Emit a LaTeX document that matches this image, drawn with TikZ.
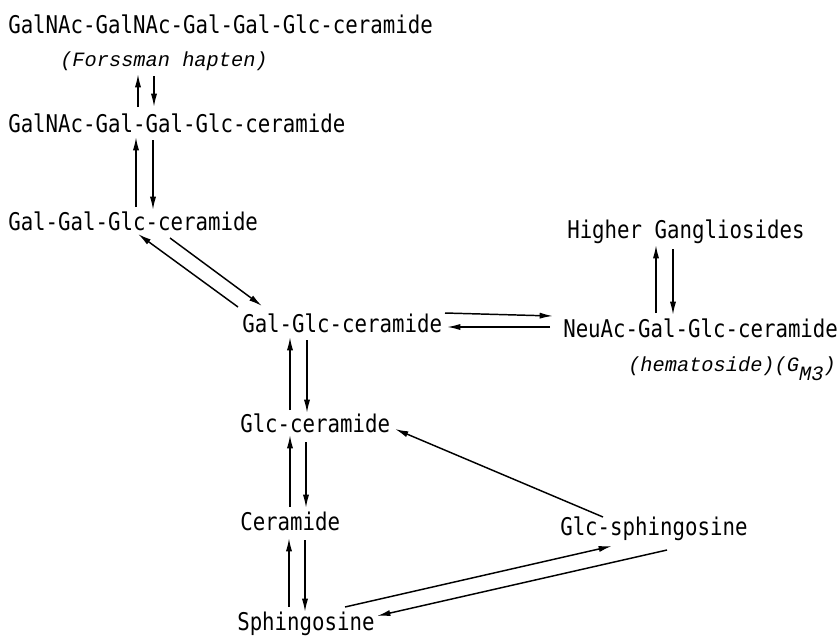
\documentclass[tikz,border=0pt]{standalone}
\usepackage{fontspec}
\usepackage{tikz}
\usetikzlibrary{arrows.meta}
\newfontfamily\chemfont[FakeStretch=0.85]{DejaVu Sans Mono}
\newfontfamily\notefont{Liberation Mono}

\tikzset{
  chem/.style={anchor=base west, inner sep=0pt, font=\chemfont\fontsize{18.3}{20}\selectfont},
  note/.style={anchor=base west, inner sep=0pt, font=\notefont\itshape\fontsize{15.25}{17}\selectfont},
  flow/.style={line width=1.1pt, -{Latex[length=10pt,width=4.6pt]}}
}

\begin{document}
\begin{tikzpicture}[x=0.75pt, y=-0.75pt]

\useasboundingbox (0,0) rectangle (839,637);

% compounds
\node[chem] (forsman) at (8,33) {GalNAc-GalNAc-Gal-Gal-Glc-ceramide};
\node[note] (fors)    at (60,66) {(Forssman hapten)};
\node[chem] (galnac)  at (8,132) {GalNAc-Gal-Gal-Glc-ceramide};
\node[chem] (galgal)  at (8,230) {Gal-Gal-Glc-ceramide};
\node[chem] (galglc)  at (242,332) {Gal-Glc-ceramide};
\node[chem] (neuac)   at (563,337) {NeuAc-Gal-Glc-ceramide};
\node[note] (hemato)  at (628,371) {(hematoside)(G\raisebox{-7pt}{M3})};
\node[chem] (higher)  at (567,238) {Higher Gangliosides};
\node[chem] (glccer)  at (240,432) {Glc-ceramide};
\node[chem] (cer)     at (240,530) {Ceramide};
\node[chem] (sph)     at (237,630) {Sphingosine};
\node[chem] (glcsph)  at (560,535) {Glc-sphingosine};

% left column
\draw[flow] ([shift={(130,-25)}]galnac.base west) -- ([shift={(78,8)}]fors.base west);
\draw[flow] ([shift={(94,10)}]fors.base west) -- ([shift={(146,-25)}]galnac.base west);

\draw[flow] ([shift={(128,-23)}]galgal.base west) -- ([shift={(128,5)}]galnac.base west);
\draw[flow] ([shift={(145,8)}]galnac.base west) -- ([shift={(145,-20)}]galgal.base west);

\draw[flow] ([shift={(-4,-25)}]galglc.base west) -- ([shift={(130,4)}]galgal.base west);
\draw[flow] ([shift={(162,8)}]galgal.base west) -- ([shift={(20,-26)}]galglc.base west);

% gangliosides
\draw[flow] ([shift={(203,-19)}]galglc.base west) -- ([shift={(-10,-21)}]neuac.base west);
\draw[flow] ([shift={(-13,-10)}]neuac.base west) -- ([shift={(205,-5)}]galglc.base west);

\draw[flow] ([shift={(93,-24)}]neuac.base west) -- ([shift={(89,7)}]higher.base west);
\draw[flow] ([shift={(106,11)}]higher.base west) -- ([shift={(110,-22)}]neuac.base west);

% lower column
\draw[flow] ([shift={(50,-22)}]glccer.base west) -- ([shift={(48,5)}]galglc.base west);
\draw[flow] ([shift={(65,8)}]galglc.base west) -- ([shift={(67,-19)}]glccer.base west);

\draw[flow] ([shift={(50,-23)}]cer.base west) -- ([shift={(50,3)}]glccer.base west);
\draw[flow] ([shift={(66,10)}]glccer.base west) -- ([shift={(66,-22)}]cer.base west);

\draw[flow] ([shift={(52,-23)}]sph.base west) -- ([shift={(49,8)}]cer.base west);
\draw[flow] ([shift={(65,10)}]cer.base west) -- ([shift={(68,-18)}]sph.base west);

% sphingosine route
\draw[flow] ([shift={(43,-18)}]glcsph.base west) -- ([shift={(155,-3)}]glccer.base west);
\draw[flow] ([shift={(108,-23)}]sph.base west) -- ([shift={(52,11)}]glcsph.base west);
\draw[flow] ([shift={(107,15)}]glcsph.base west) -- ([shift={(140,-14)}]sph.base west);

\end{tikzpicture}
\end{document}
